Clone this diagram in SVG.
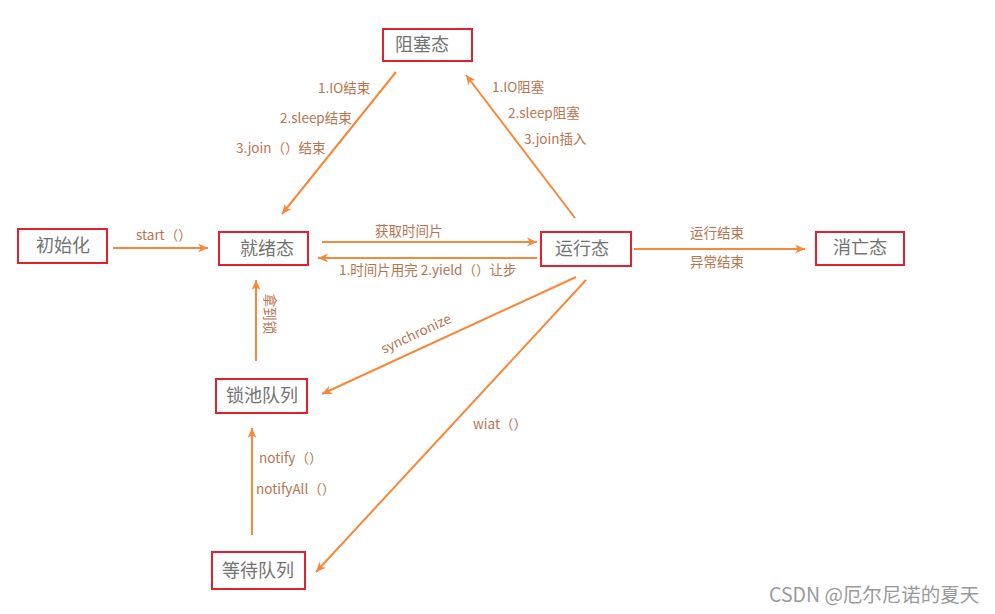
<svg xmlns="http://www.w3.org/2000/svg" width="995" height="614" viewBox="0 0 995 614">
<defs>
<marker id="ah" markerWidth="12" markerHeight="10" refX="10" refY="5" orient="auto" markerUnits="userSpaceOnUse">
<path d="M0,0.5 L10,5 L0,9.5 L3,5 Z" fill="#f7883a"/>
</marker>
<style>
.box{fill:#fff;stroke:#e5202e;stroke-width:2}
.nt{font-family:"Noto Sans CJK SC","Microsoft YaHei",sans-serif;font-size:18px;fill:#737373}
.ln{stroke:#f7883a;stroke-width:2;fill:none;marker-end:url(#ah)}
.lb{font-family:"Noto Sans CJK SC","Open Sans",sans-serif;font-size:13.5px;fill:#b9744f}
.wm{font-family:"Noto Sans CJK SC",sans-serif;font-size:19.5px;fill:#9a9a9a}
</style>
</defs>
<rect width="995" height="614" fill="#fff"/>
<g id="connectors">
<line class="ln" x1="396" y1="72" x2="282" y2="214"/>
<line class="ln" x1="575" y1="218" x2="466" y2="75"/>
<line class="ln" x1="113" y1="248" x2="208" y2="248"/>
<line class="ln" x1="322" y1="242" x2="537" y2="242"/>
<line class="ln" x1="537" y1="258" x2="318" y2="258"/>
<line class="ln" x1="634" y1="249" x2="805" y2="249"/>
<line class="ln" x1="576" y1="277" x2="322" y2="394"/>
<line class="ln" x1="586" y1="280" x2="316" y2="572"/>
<line class="ln" x1="256" y1="361" x2="256" y2="280"/>
<line class="ln" x1="252" y1="535" x2="252" y2="428"/>
</g>
<g id="labels">
<text class="lb" x="318" y="93">1.IO结束</text>
<text class="lb" x="280" y="123">2.sleep结束</text>
<text class="lb" x="236" y="153">3.join（）结束</text>
<text class="lb" x="492" y="92">1.IO阻塞</text>
<text class="lb" x="508" y="118">2.sleep阻塞</text>
<text class="lb" x="524" y="144">3.join插入</text>
<text class="lb" x="136" y="240">start（）</text>
<text class="lb" x="375" y="236">获取时间片</text>
<text class="lb" x="339" y="275">1.时间片用完 2.yield（）让步</text>
<text class="lb" x="690" y="238">运行结束</text>
<text class="lb" x="690" y="267">异常结束</text>
<text class="lb" transform="translate(265,314) rotate(90)" text-anchor="middle">拿到锁</text>
<text class="lb" transform="translate(418,338) rotate(-25)" text-anchor="middle">synchronize</text>
<text class="lb" x="473" y="429">wiat（）</text>
<text class="lb" x="259" y="463">notify（）</text>
<text class="lb" x="256" y="494">notifyAll（）</text>
</g>
<g id="n-blocked"><rect class="box" x="383" y="29" width="89" height="32"/><text class="nt" x="422" y="51" text-anchor="middle">阻塞态</text></g>
<g id="n-init"><rect class="box" x="18" y="229" width="89" height="34"/><text class="nt" x="63" y="252" text-anchor="middle">初始化</text></g>
<g id="n-ready"><rect class="box" x="219" y="232" width="89" height="33"/><text class="nt" x="267" y="255" text-anchor="middle">就绪态</text></g>
<g id="n-running"><rect class="box" x="541" y="232" width="90" height="34"/><text class="nt" x="582" y="255" text-anchor="middle">运行态</text></g>
<g id="n-dead"><rect class="box" x="816" y="232" width="88" height="33"/><text class="nt" x="860" y="254" text-anchor="middle">消亡态</text></g>
<g id="n-lockpool"><rect class="box" x="216" y="379" width="91" height="34"/><text class="nt" x="262" y="402" text-anchor="middle">锁池队列</text></g>
<g id="n-waitqueue"><rect class="box" x="212" y="552" width="93" height="37"/><text class="nt" x="258" y="577" text-anchor="middle">等待队列</text></g>
<text class="wm" x="769" y="602">CSDN @厄尔尼诺的夏天</text>
</svg>
